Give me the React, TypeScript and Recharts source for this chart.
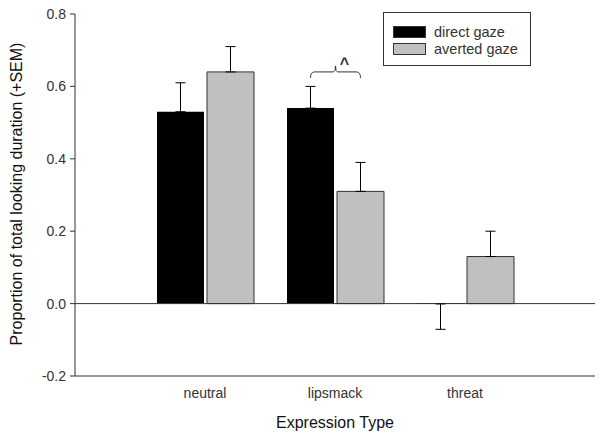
import {
  Bar,
  BarChart,
  ErrorBar,
  LabelList,
  Legend,
  ReferenceLine,
  XAxis,
  YAxis,
} from "recharts";

const categories = ["neutral", "lipsmack", "threat"];
const seriesNames = ["direct gaze", "averted gaze"];
const directGaze = [0.53, 0.54, -0.001];
const directSem = [0.08, 0.06, -0.07]; // negative = whisker drawn downward
const avertedGaze = [0.64, 0.31, 0.13];
const avertedSem = [0.07, 0.08, 0.07];
const yTicks = [-0.2, 0, 0.2, 0.4, 0.6, 0.8];

const bracketCategory = "lipsmack";
const bracketLevel = 0.64;
const bracketMark = "^";

const FONT = "'Liberation Sans', Arial, sans-serif";
const INK = "#333";
const BAR_SIZE = 47;
const BAR_GAP = 3;

const toErr = (s: number) => (s >= 0 ? [0, s] : [-s, 0]);

const rows = categories.map((name, i) => ({
  name,
  direct: directGaze[i],
  directErr: toErr(directSem[i]),
  averted: avertedGaze[i],
  avertedErr: toErr(avertedSem[i]),
}));

function Bracket(props: any) {
  const { x, y, width, height, index, value } = props;
  if (categories[index] !== bracketCategory || !value) return null;
  const unit = height / value;
  const zeroY = y + height;
  const by = zeroY - bracketLevel * unit;
  const x1 = x + width / 2;
  const x2 = x + width * 1.5 + BAR_GAP;
  const mid = (x1 + x2) / 2;
  return (
    <g fill="none" stroke={INK} strokeWidth={1}>
      <path
        d={`M${x1},${by + 6} Q${x1},${by} ${x1 + 4},${by} L${mid - 2},${by} Q${mid},${by} ${mid},${by - 6} Q${mid},${by} ${mid + 2},${by} L${x2 - 4},${by} Q${x2},${by} ${x2},${by + 6}`}
      />
      <text
        x={mid + 9}
        y={by - 3}
        textAnchor="middle"
        fontFamily={FONT}
        fontSize={16}
        fontWeight={700}
        fill={INK}
        stroke="none"
      >
        {bracketMark}
      </text>
    </g>
  );
}

function LegendBox(props: any) {
  const items = [...(props.payload || [])].sort(
    (a: any, b: any) => seriesNames.indexOf(a.value) - seriesNames.indexOf(b.value),
  );
  return (
    <div
      style={{
        border: `1px solid ${INK}`,
        background: "#fff",
        padding: "10px 10px 8px 9px",
        fontFamily: FONT,
        fontSize: 14.5,
        color: INK,
      }}
    >
      {items.map((it: any) => (
        <div
          key={it.value}
          style={{ display: "flex", alignItems: "center", height: 17 }}
        >
          <span
            style={{
              display: "inline-block",
              width: 31,
              height: 10,
              background: it.color,
              border: `1px solid ${INK}`,
              marginRight: 8,
            }}
          />
          {it.value}
        </div>
      ))}
    </div>
  );
}

function YTitle() {
  return (
    <text
      transform="translate(22,194) rotate(-90)"
      textAnchor="middle"
      fontFamily={FONT}
      fontSize={16}
      fill="#111"
    >
      Proportion of total looking duration (+SEM)
    </text>
  );
}

function XTitle(props: any) {
  const vb = props.viewBox || {};
  return (
    <text
      x={vb.x + vb.width / 2}
      y={428}
      textAnchor="middle"
      fontFamily={FONT}
      fontSize={16}
      fill="#111"
    >
      Expression Type
    </text>
  );
}

export default function App() {
  return (
    <div style={{ position: "absolute", left: 0, top: 0, background: "#fff" }}>
      <BarChart
        width={604}
        height={440}
        data={rows}
        margin={{ top: 14, right: 9, bottom: 34, left: 0 }}
        barGap={BAR_GAP}
        barSize={BAR_SIZE}
      >
        <XAxis
          dataKey="name"
          padding={{ left: 65, right: 65 }}
          tickLine={false}
          axisLine={{ stroke: INK }}
          tick={{ fontSize: 14, fill: INK, fontFamily: FONT }}
          tickMargin={6}
          height={30}
          label={<XTitle />}
        />
        <YAxis
          width={75}
          domain={[-0.2, 0.8]}
          ticks={yTicks}
          tickFormatter={(v: number) => v.toFixed(1)}
          tickSize={5}
          tickLine={{ stroke: INK }}
          axisLine={{ stroke: INK }}
          tick={{ fontSize: 14, fill: INK, fontFamily: FONT }}
          tickMargin={4}
          label={<YTitle />}
        />
        <ReferenceLine y={0} stroke={INK} />
        <Legend
          layout="horizontal"
          verticalAlign="middle"
          align="center"
          content={<LegendBox />}
          wrapperStyle={{ left: 383, top: 12, width: 148 }}
        />
        <Bar
          dataKey="direct"
          name="direct gaze"
          fill="#000"
          stroke="none"
          isAnimationActive={false}
        >
          <ErrorBar dataKey="directErr" width={5} stroke="#000" strokeWidth={1} />
          <LabelList dataKey="direct" content={<Bracket />} />
        </Bar>
        <Bar
          dataKey="averted"
          name="averted gaze"
          fill="#c0c0c0"
          stroke={INK}
          isAnimationActive={false}
        >
          <ErrorBar dataKey="avertedErr" width={5} stroke="#000" strokeWidth={1} />
        </Bar>
      </BarChart>
    </div>
  );
}
